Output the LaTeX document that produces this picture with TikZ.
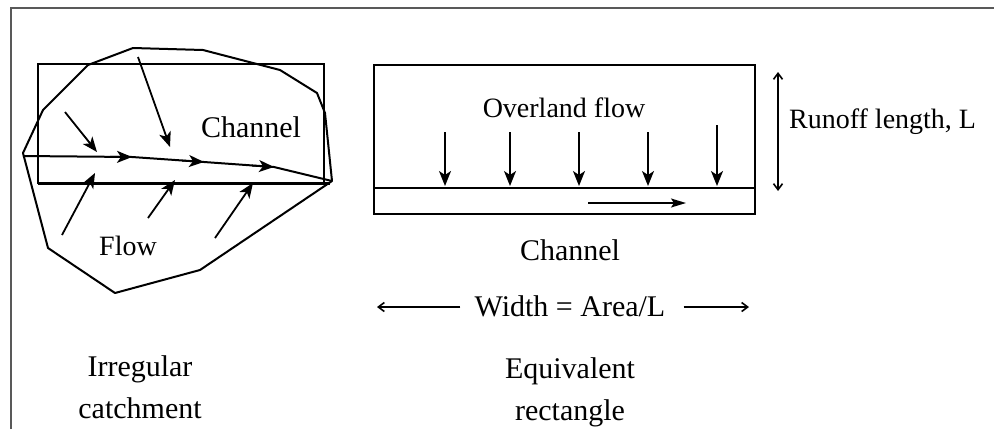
\documentclass[tikz,border=0pt]{standalone}
\usepackage{fontspec}
\setmainfont{Liberation Serif}
\usetikzlibrary{arrows.meta}
\begin{document}
\begin{tikzpicture}[x=1pt,y=-1pt,
  ln/.style={line width=2pt,black},
  farrow/.style={line width=1.8pt,-{Stealth[length=15pt,width=12pt,inset=4pt]}},
  barb/.style={line width=1.6pt,{Straight Barb[length=6pt,width=9pt]}-{Straight Barb[length=6pt,width=9pt]}},
  barbone/.style={line width=1.6pt,-{Straight Barb[length=6pt,width=9pt]}},
  lbl/.style={font=\fontsize{30}{42}\selectfont,inner sep=0pt,align=center},
  slbl/.style={font=\fontsize{28}{34}\selectfont,inner sep=0pt,align=center}]
\useasboundingbox (0,0) rectangle (994,429);
\fill[white] (0,0) rectangle (994,429);
% frame
\draw[gray!70!black,line width=1.2pt] (11,429) -- (11,8) -- (994,8);

% ---- irregular catchment ----
\draw[line width=1.8pt] (38,64) rectangle (324,183);
\draw[line width=3pt] (38,183) -- (330,183);
\draw[ln,line join=round] (23,153) -- (43,110) -- (88,65) -- (133,48) -- (203,50) -- (280,70) -- (317,93) -- (325,113) -- (332,181) -- (200,270) -- (115,293) -- (48,248) -- cycle;
% channel line
\coordinate (c0) at (23,156);
\coordinate (c1) at (132,157);
\coordinate (c2) at (204,162);
\coordinate (c3) at (274,167);
\coordinate (c4) at (332,181);
\draw[ln] (c0) -- (c1) -- (c2) -- (c3) -- (c4);
\draw[farrow] (110,156.8) -- (c1);
\draw[farrow] (182,160.6) -- (c2);
\draw[farrow] (252,165.6) -- (c3);
% inflow arrows
\coordinate (a1s) at (65,112);  \coordinate (a1e) at (97,152);
\coordinate (a2s) at (138,57);  \coordinate (a2e) at (170,147);
\coordinate (a3s) at (62,235);  \coordinate (a3e) at (95,173);
\coordinate (a4s) at (148,218); \coordinate (a4e) at (175,180);
\coordinate (a5s) at (215,238); \coordinate (a5e) at (253,183);
\foreach \i in {1,...,5} \draw[farrow] (a\i s) -- (a\i e);
\node[lbl] (chL) at (251,127) {Channel};
\node[slbl] (flowL) at (128,246) {Flow};

% ---- equivalent rectangle ----
\draw[line width=1.8pt] (374,65) rectangle (755,214);
\draw[line width=1.8pt] (374,188) -- (755,188);
\node[slbl] (ovl) at (564,108) {Overland flow};
\foreach \x/\y in {445/132,510/132,579/132,648/132,717/125}
  \draw[farrow] (\x,\y) -- (\x,186);
\coordinate (chs) at (588,203); \coordinate (che) at (686,203);
\draw[line width=1.6pt,-{Stealth[length=15pt,width=9pt,inset=3pt]}] (chs) -- (che);
% runoff length
\coordinate (rt) at (778,72); \coordinate (rb) at (778,191);
\draw[barb] (rt) -- (rb);
\node[slbl,anchor=west] (run) at (789,122) {Runoff length, L};
% width
\node[lbl] (chR) at (570,250) {Channel};
\node[lbl] (wid) at (570,306) {Width = Area/L};
\coordinate (wl) at (377,307); \coordinate (wr) at (749,307);
\draw[barbone] (wid.west) ++(-14,1) -- (wl);
\draw[barbone] (wid.east) ++(18,1) -- (wr);
\node[lbl] (eq) at (570,392) {Equivalent\\rectangle};
\node[lbl] (irr) at (140,387) {Irregular\\catchment};
\end{tikzpicture}
\end{document}
